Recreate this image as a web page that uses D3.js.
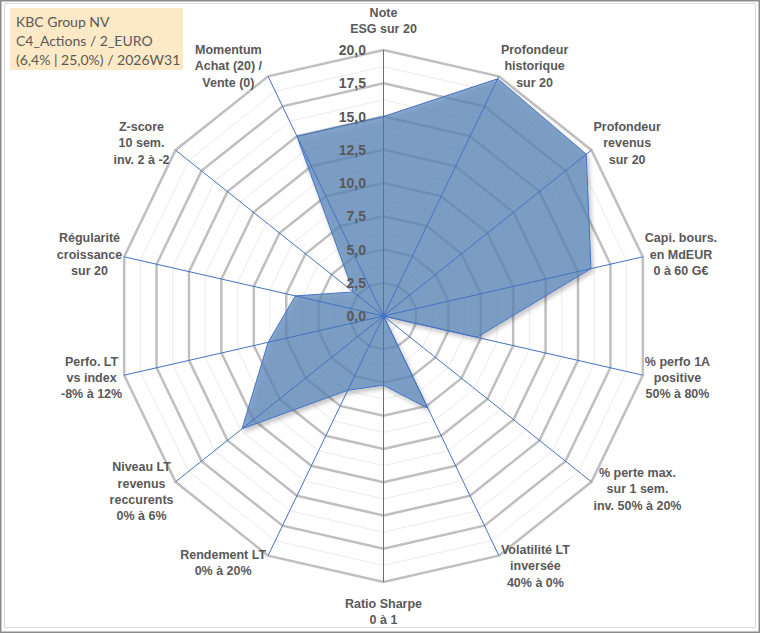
<!DOCTYPE html>
<html>
<head>
<meta charset="utf-8">
<script src="https://cdn.jsdelivr.net/npm/d3@7"></script>
<style>
  body { margin: 0; background: #fff; }
  svg { display: block; }
</style>
</head>
<body>
<div id="chart"></div>
<script>
// Axis labels, clockwise from the top
var categories = [
    ["Note", "ESG sur 20"],
    ["Profondeur", "historique", "sur 20"],
    ["Profondeur", "revenus", "sur 20"],
    ["Capi. bours.", "en MdEUR", "0 à 60 G€"],
    ["% perfo 1A", "positive", "50% à 80%"],
    ["% perte max.", "sur 1 sem.", "inv. 50% à 20%"],
    ["Volatilité LT", "inversée", "40% à 0%"],
    ["Ratio Sharpe", "0 à 1"],
    ["Rendement LT", "0% à 20%"],
    ["Niveau LT", "revenus", "reccurents", "0% à 6%"],
    ["Perfo. LT", "vs index", "-8% à 12%"],
    ["Régularité", "croissance", "sur 20"],
    ["Z-score", "10 sem.", "inv. 2 à -2"],
    ["Momentum", "Achat (20) /", "Vente (0)"]
];

// scores on 20
var scores = [15.0, 19.8, 19.5, 16.0, 7.2, 0, 7.7, 5.2, 6.2, 13.6, 8.9, 6.8, 2.9, 15.0];

var majorTicks = [0, 2.5, 5, 7.5, 10, 12.5, 15, 17.5, 20];
var minorTicks = [1.25, 3.75, 6.25, 8.75, 11.25, 13.75, 16.25, 18.75];

var titleLines = ["KBC Group NV", "C4_Actions / 2_EURO", "(6,4% | 25,0%) / 2026W31"];

var width = 760, height = 633;
var cx = 383.5, cy = 316;

var svg = d3.select("#chart").append("svg")
    .attr("width", width)
    .attr("height", height);

// drop shadow for the area
var defs = svg.append("defs");
var filter = defs.append("filter").attr("id", "shadow")
    .attr("x", "-10%").attr("y", "-10%").attr("width", "130%").attr("height", "130%");
filter.append("feDropShadow")
    .attr("dx", 2).attr("dy", 3).attr("stdDeviation", 2)
    .attr("flood-color", "#000").attr("flood-opacity", 0.3);

// chart frame
svg.append("rect")
    .attr("x", 0.75).attr("y", 0.75)
    .attr("width", width - 1.5).attr("height", height - 1.5)
    .attr("fill", "#fff").attr("stroke", "#8a8a8a").attr("stroke-width", 1.5);
svg.append("rect")
    .attr("x", 4.5).attr("y", 3.5)
    .attr("width", width - 9).attr("height", height - 9)
    .attr("fill", "none").attr("stroke", "#dcdcdc").attr("stroke-width", 1);

var n = categories.length;
var angle = d3.scaleLinear().domain([0, n]).range([0, 2 * Math.PI]);
var r = d3.scaleLinear().domain([0, 20]).range([0, 266]);

function pt(i, v) {
    var a = angle(i);
    return [cx + r(v) * Math.sin(a), cy - r(v) * Math.cos(a)];
}

var g = svg.append("g");

// grid rings
function ringPath(v) {
    return d3.line()(d3.range(n).map(function (i) { return pt(i, v); })) + "Z";
}

g.selectAll("path.minor")
    .data(minorTicks)
    .enter().append("path")
    .attr("class", "minor")
    .attr("d", ringPath)
    .attr("fill", "none")
    .attr("stroke", "#ebebeb")
    .attr("stroke-width", 1);

g.selectAll("path.major")
    .data(majorTicks.filter(function (d) { return d > 0; }))
    .enter().append("path")
    .attr("class", "major")
    .attr("d", ringPath)
    .attr("fill", "none")
    .attr("stroke", "#bfbfbf")
    .attr("stroke-width", 2.5);

// filled area
var areaPts = scores.map(function (v, i) { return pt(i, v); });
g.append("path")
    .attr("d", d3.line()(areaPts) + "Z")
    .attr("fill", "#5b86ba")
    .attr("fill-opacity", 0.72)
    .attr("stroke", "#4472c4")
    .attr("stroke-width", 1)
    .attr("filter", "url(#shadow)");

// spokes
g.selectAll("line.spoke")
    .data(d3.range(n))
    .enter().append("line")
    .attr("class", "spoke")
    .attr("x1", cx).attr("y1", cy)
    .attr("x2", function (i) { return pt(i, 20)[0]; })
    .attr("y2", function (i) { return pt(i, 20)[1]; })
    .attr("stroke", "#4472c4")
    .attr("stroke-width", 1);

g.append("circle")
    .attr("cx", cx).attr("cy", cy).attr("r", 2.5)
    .attr("fill", "#4472c4");

// value labels on the top spoke
var fmt = function (d) { return d3.format(".1f")(d).replace(".", ","); };
g.selectAll("text.tick")
    .data(majorTicks)
    .enter().append("text")
    .attr("class", "tick")
    .attr("x", 366)
    .attr("y", function (d) { return cy - r(d); })
    .attr("dy", "0.36em")
    .attr("text-anchor", "end")
    .style("font-family", "'Liberation Sans', Arial, sans-serif")
    .style("font-weight", "bold")
    .style("font-size", "14px")
    .attr("fill", "#595959")
    .text(fmt);

// category labels
var lineH = 16.3;
categories.forEach(function (lines, i) {
    var a = angle(i);
    var s = Math.sin(a), c = Math.cos(a);
    var v = pt(i, 20);
    var h = lines.length * lineH;
    var x, y, anchor;
    if (Math.abs(s) < 0.01) {
        anchor = "middle";
        x = v[0];
        y = c > 0 ? v[1] - h / 2 - 13 : v[1] + h / 2 + 13;
    } else {
        anchor = s > 0 ? "start" : "end";
        var gap = (s < 0 && c > 0.5) ? 6 : 2;
        x = v[0] + (s > 0 ? gap : -gap);
        y = v[1] - c * (h / 2) * 0.47;
    }
    var t = g.append("text")
        .attr("text-anchor", anchor)
        .style("font-family", "'Liberation Sans', Arial, sans-serif")
        .style("font-weight", "bold")
        .style("font-size", "12.5px")
        .attr("fill", "#595959");
    lines.forEach(function (l, k) {
        t.append("tspan")
            .attr("x", x)
            .attr("y", y - h / 2 + lineH * (k + 0.5))
            .attr("dy", "0.35em")
            .text(l);
    });
    // centre the lines on the widest one
    if (anchor !== "middle") {
        var spans = t.selectAll("tspan").nodes();
        var wMax = d3.max(spans, function (sp) { return sp.getComputedTextLength(); });
        var mid = s > 0 ? x + wMax / 2 : x - wMax / 2;
        t.attr("text-anchor", "middle");
        t.selectAll("tspan").attr("x", mid);
    }
});

// title box
var tb = svg.append("g");
tb.append("rect")
    .attr("x", 10).attr("y", 8)
    .attr("width", 173).attr("height", 62)
    .attr("fill", "#fde9c6");
tb.selectAll("text")
    .data(titleLines)
    .enter().append("text")
    .attr("x", 16)
    .attr("y", function (d, i) { return 27 + i * 19; })
    .style("font-family", "Lato, 'Open Sans', sans-serif")
    .style("font-size", "14px")
    .attr("fill", "#595959")
    .text(function (d) { return d; });
</script>
</body>
</html>
